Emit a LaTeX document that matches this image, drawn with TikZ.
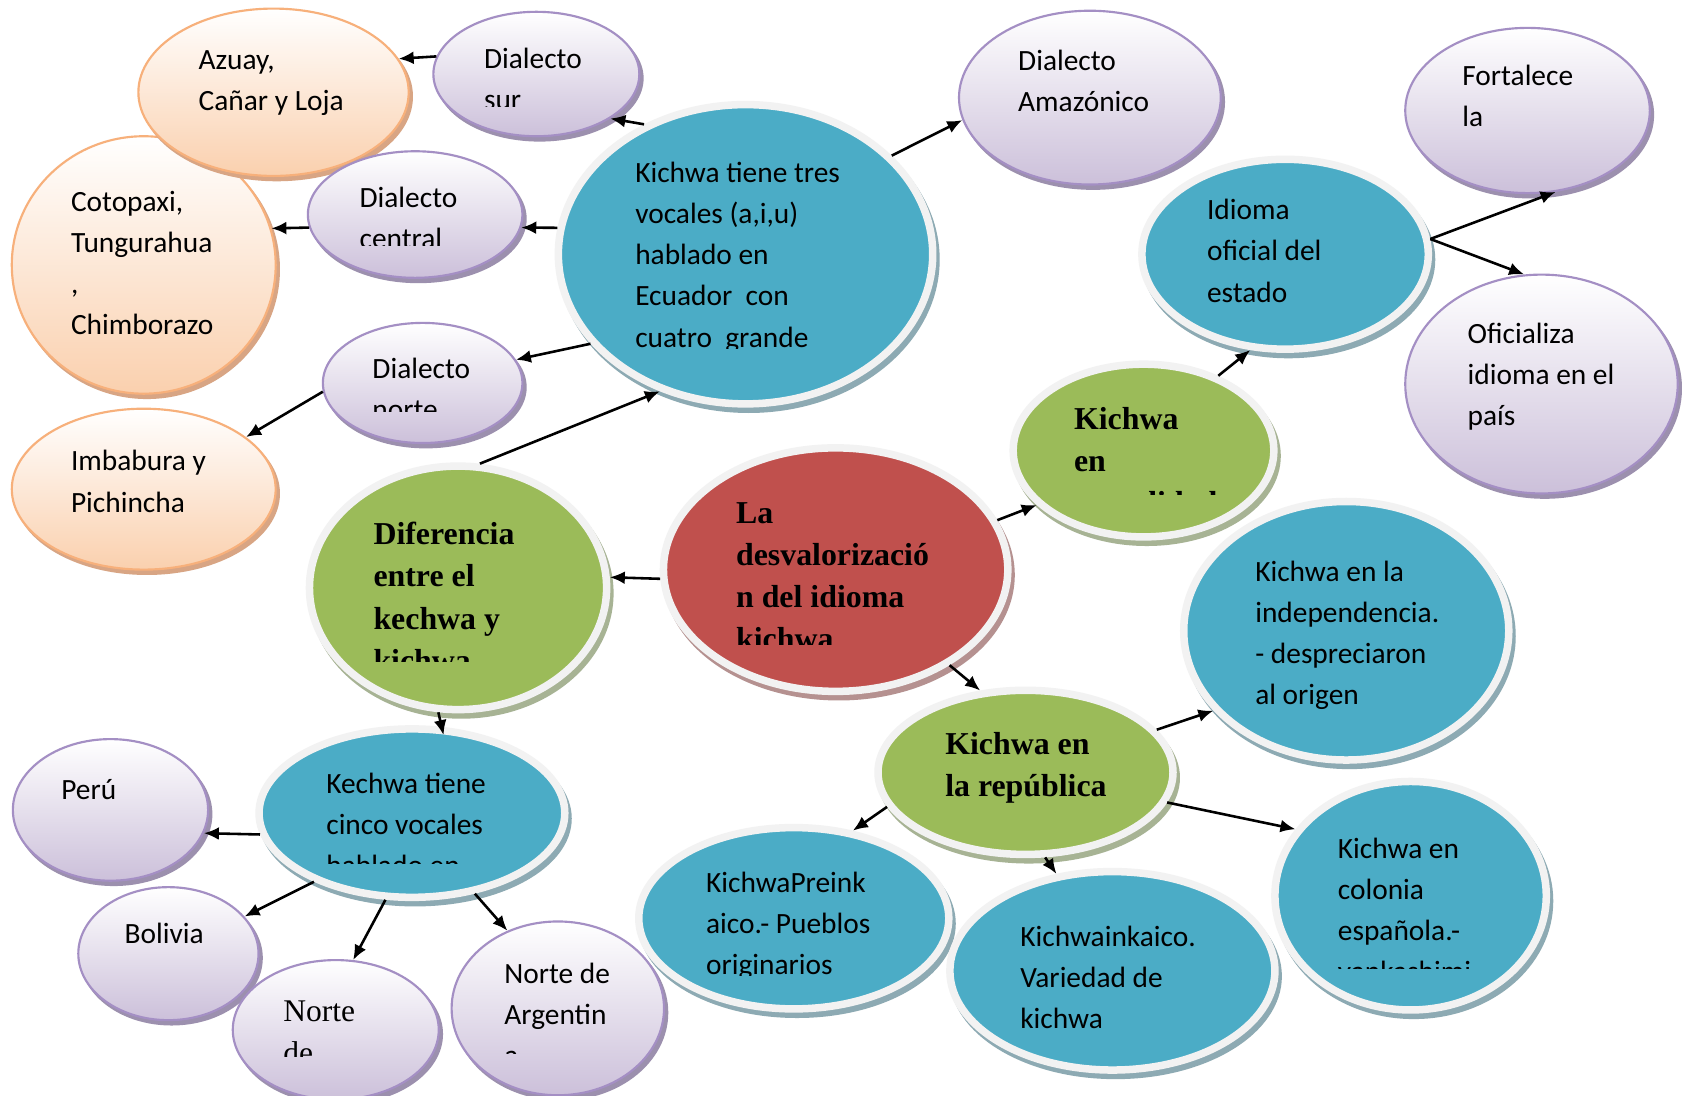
\documentclass[tikz,border=0pt]{standalone}
\usepackage{fontspec}
\setmainfont{Liberation Serif}
\newfontfamily\calfont{Carlito}
\usetikzlibrary{shapes.geometric,arrows.meta,shadows}

\definecolor{tealF}{HTML}{4BACC6}
\definecolor{greenF}{HTML}{9BBB59}
\definecolor{redF}{HTML}{C0504D}
\definecolor{ringC}{HTML}{F2F2F2}
\definecolor{tealS}{HTML}{8DAAB3}
\definecolor{greenS}{HTML}{A7B394}
\definecolor{redS}{HTML}{B59190}
\definecolor{lilacBot}{HTML}{CCC0DA}
\definecolor{lilacLine}{HTML}{A48FC4}
\definecolor{lilacS}{HTML}{9C90AE}
\definecolor{peachBot}{HTML}{FAD0AE}
\definecolor{peachLine}{HTML}{F7B07B}
\definecolor{peachS}{HTML}{D8A584}

\tikzset{
  solidbub/.style 2 args={ellipse, inner sep=0pt, fill=#1, draw=ringC, line width=7pt,
    drop shadow={shadow xshift=3pt, shadow yshift=-5pt, fill=#2, draw=#2, opacity=1}},
  tealbub/.style={solidbub={tealF}{tealS}},
  greenbub/.style={solidbub={greenF}{greenS}},
  redbub/.style={solidbub={redF}{redS}},
  lilacbub/.style={ellipse, inner sep=0pt, top color=white, bottom color=lilacBot,
    draw=lilacLine, line width=2pt,
    drop shadow={shadow xshift=3pt, shadow yshift=-4pt, fill=lilacS, draw=lilacS, opacity=1}},
  peachbub/.style={ellipse, inner sep=0pt, top color=white, bottom color=peachBot,
    draw=peachLine, line width=2pt,
    drop shadow={shadow xshift=3pt, shadow yshift=-4pt, fill=peachS, draw=peachS, opacity=1}},
  ctxt/.style={inner sep=0pt, anchor=base west, font=\calfont\fontsize{27.4}{38.3}\selectfont},
  btxt/.style={inner sep=0pt, anchor=base west, font=\bfseries\fontsize{29.7}{39.2}\selectfont},
  rtxt/.style={inner sep=0pt, anchor=base west, font=\fontsize{29.4}{39}\selectfont},
  arr/.style={-{Latex[length=14pt,width=12pt]}, line width=2.4pt, black},
}

\begin{document}
\begin{tikzpicture}[x=1pt,y=-1pt]
\clip (0,0) rectangle (1568,1021);
\fill[white] (0,0) rectangle (1568,1021);

% ---- bubbles ----
\node[peachbub, minimum width=246pt, minimum height=240pt] (cotopaxi) at (134,247) {};
\node[peachbub, minimum width=252pt, minimum height=156pt] (azuay) at (255,86) {};
\node[lilacbub, minimum width=200pt, minimum height=118pt] (central) at (387,200) {};
\node[lilacbub, minimum width=192pt, minimum height=116pt] (sur) at (500,69) {};
\node[lilacbub, minimum width=186pt, minimum height=112pt] (norte) at (394,357) {};
\node[peachbub, minimum width=246pt, minimum height=150pt] (imbabura) at (134,456) {};
\node[tealbub, minimum width=349pt, minimum height=279pt] (big) at (695,237) {};
\node[lilacbub, minimum width=244pt, minimum height=162pt] (amazonico) at (1016,91) {};
\node[lilacbub, minimum width=228pt, minimum height=154pt] (fortalece) at (1424,103) {};
\node[lilacbub, minimum width=254pt, minimum height=204pt] (oficializa) at (1437,358) {};
\node[tealbub, minimum width=267pt, minimum height=177pt] (idioma) at (1198,237) {};
\node[greenbub, minimum width=243pt, minimum height=161pt] (actual) at (1066,420) {};
\node[tealbub, minimum width=303pt, minimum height=241pt] (indep) at (1255,588) {};
\node[redbub, minimum width=321pt, minimum height=227pt] (red) at (779,531) {};
\node[greenbub, minimum width=277pt, minimum height=227pt] (dif) at (427,548) {};
\node[greenbub, minimum width=275pt, minimum height=153pt] (repub) at (956,720) {};
\node[tealbub, minimum width=285pt, minimum height=157pt] (kech) at (384,758) {};
\node[lilacbub, minimum width=182pt, minimum height=132pt] (peru) at (103,755) {};
\node[lilacbub, minimum width=168pt, minimum height=124pt] (bolivia) at (157,889) {};
\node[lilacbub, minimum width=192pt, minimum height=130pt] (nortede) at (313,960) {};
\node[lilacbub, minimum width=198pt, minimum height=162pt] (argent) at (520,940) {};
\node[tealbub, minimum width=289pt, minimum height=169pt] (preink) at (740,856) {};
\node[tealbub, minimum width=303pt, minimum height=185pt] (inkaico) at (1037,905) {};
\node[tealbub, minimum width=253pt, minimum height=213pt] (colonia) at (1315,835) {};

% ---- texts ----
\node[ctxt] (t-azuay) at (185,65) {\vtop{\hbox{Azuay,}\hbox{Cañar y Loja}}};
\begin{scope}
  \clip (440,20) rectangle (600,99);
  \node[ctxt] (t-sur) at (451,63.5) {\vtop{\hbox{Dialecto}\hbox{sur}}};
\end{scope}
\begin{scope}
  \clip (325,150) rectangle (480,228.5);
  \node[ctxt] (t-central) at (335,193) {\vtop{\hbox{Dialecto}\hbox{central}}};
\end{scope}
\node[ctxt] (t-cotopaxi) at (66,197) {\vtop{\hbox{Cotopaxi,}\hbox{Tungurahua}\hbox{,}\hbox{Chimborazo}}};
\begin{scope}
  \clip (335,310) rectangle (480,384);
  \node[ctxt] (t-norte) at (347,352.6) {\vtop{\hbox{Dialecto}\hbox{norte}}};
\end{scope}
\node[ctxt] (t-imbabura) at (66,439) {\vtop{\hbox{Imbabura y}\hbox{Pichincha}}};
\begin{scope}
  \clip (580,130) rectangle (860,325);
  \node[ctxt] (t-big) at (592,170.3) {\vtop{\hbox{Kichwa tiene tres}\hbox{vocales (a,i,u)}\hbox{hablado en}\hbox{Ecuador\ \ con}\hbox{cuatro\ \ grande}\hbox{dialectos}}};
\end{scope}
\node[ctxt] (t-amazonico) at (949,65.3) {\vtop{\hbox{Dialecto}\hbox{Amazónico}}};
\node[ctxt] (t-fortalece) at (1363,80) {\vtop{\hbox{Fortalece}\hbox{la}}};
\node[ctxt] (t-oficializa) at (1368,320) {\vtop{\hbox{Oficializa}\hbox{idioma en el}\hbox{país}}};
\node[ctxt] (t-idioma) at (1125,205) {\vtop{\hbox{Idioma}\hbox{oficial del}\hbox{estado}}};
\begin{scope}
  \clip (990,360) rectangle (1180,461);
  \node[btxt] (t-actual) at (1001,400) {\vtop{\hbox{Kichwa}\hbox{en}\hbox{actualidad}}};
\end{scope}
\node[ctxt] (t-indep) at (1170,542) {\vtop{\hbox{Kichwa en la}\hbox{independencia.}\hbox{- despreciaron}\hbox{al origen}}};
\begin{scope}
  \clip (675,450) rectangle (935,601);
  \node[btxt] (t-red) at (686,488) {\vtop{\hbox{La}\hbox{desvalorizació}\hbox{n del idioma}\hbox{kichwa}}};
\end{scope}
\begin{scope}
  \clip (338,470) rectangle (560,617);
  \node[btxt] (t-dif) at (348,508) {\vtop{\hbox{Diferencia}\hbox{entre el}\hbox{kechwa y}\hbox{kichwa}}};
\end{scope}
\node[btxt] (t-repub) at (881,703) {\vtop{\hbox{Kichwa en}\hbox{la república}}};
\begin{scope}
  \clip (295,700) rectangle (525,805);
  \node[ctxt] (t-kech) at (304,740) {\vtop{\hbox{Kechwa tiene}\hbox{cinco vocales}\hbox{hablado en}}};
\end{scope}
\node[ctxt] (t-peru) at (57,745) {Perú};
\node[ctxt] (t-bolivia) at (116,880) {Bolivia};
\begin{scope}
  \clip (255,910) rectangle (405,985);
  \node[rtxt] (t-nortede) at (264,952) {\vtop{\hbox{Norte}\hbox{de}}};
\end{scope}
\begin{scope}
  \clip (460,880) rectangle (615,982);
  \node[ctxt] (t-argent) at (470,917) {\vtop{\hbox{Norte de}\hbox{Argentin}\hbox{a}}};
\end{scope}
\begin{scope}
  \clip (648,795) rectangle (880,909);
  \node[ctxt] (t-preink) at (658,832) {\vtop{\hbox{KichwaPreink}\hbox{aico.- Pueblos}\hbox{originarios}}};
\end{scope}
\node[ctxt] (t-inkaico) at (951,882) {\vtop{\hbox{Kichwainkaico.}\hbox{Variedad de}\hbox{kichwa}}};
\begin{scope}
  \clip (1237,760) rectangle (1440,903);
  \node[ctxt] (t-colonia) at (1247,800) {\vtop{\hbox{Kichwa en}\hbox{colonia}\hbox{española.-}\hbox{yankashimi}}};
\end{scope}

% ---- connectors ----
\draw[arr] (big.128) -- (sur.-31);
\draw[arr] (sur.170) -- (azuay.15);
\draw[arr] (big.172) -- (central.-7);
\draw[arr] (central.-173) -- (cotopaxi.16);
\draw[arr] (big.-150) -- (norte.14);
\draw[arr] (norte.-175) -- (imbabura.27);
\draw[arr] (dif.80) -- (big.-122);
\draw[arr] (big.34) -- (amazonico.-170);
\draw[arr] (idioma.6) -- (fortalece.-71);
\draw[arr] (idioma.6) -- (oficializa.99);
\draw[arr] (actual.45) -- (idioma.-110);
\draw[arr] (red.17) -- (actual.-153);
\draw[arr] (red.-177) -- (dif.4);
\draw[arr] (red.-40) -- (repub.119);
\draw[arr, shorten >=-8pt] (dif.-99) -- (kech.71);
\draw[arr] (kech.-172) -- (peru.-14);
\draw[arr] (kech.-145) -- (bolivia.26);
\draw[arr] (kech.-107) -- (nortede.76);
\draw[arr] (kech.-52) -- (argent.123);
\draw[arr] (repub.18) -- (indep.-149);
\draw[arr] (repub.-166) -- (preink.56);
\draw[arr] (repub.-12) -- (colonia.150);
\draw[arr] (repub.-77) -- (inkaico.120);
\end{tikzpicture}
\end{document}
